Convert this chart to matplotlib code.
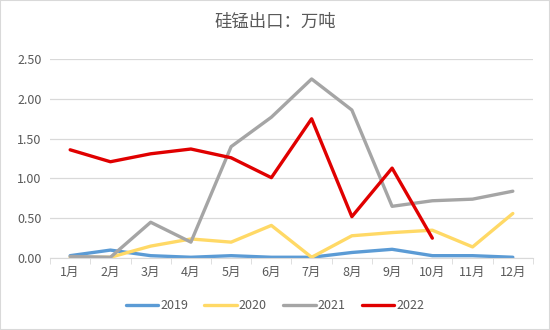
import matplotlib
matplotlib.use("Agg")
import matplotlib.pyplot as plt
from matplotlib.patches import Rectangle

plt.rcParams['font.family'] = ['Noto Sans CJK SC', 'DejaVu Sans']

months = [f"{i}月" for i in range(1, 13)]
y2019 = [0.03, 0.10, 0.03, 0.01, 0.03, 0.01, 0.01, 0.07, 0.11, 0.03, 0.03, 0.01]
y2020 = [0.01, 0.01, 0.15, 0.24, 0.20, 0.41, 0.01, 0.28, 0.32, 0.35, 0.14, 0.56]
y2021 = [0.02, 0.01, 0.45, 0.20, 1.40, 1.77, 2.25, 1.86, 0.65, 0.72, 0.74, 0.84]
y2022 = [1.36, 1.21, 1.31, 1.37, 1.26, 1.01, 1.75, 0.52, 1.13, 0.25]

fig = plt.figure(figsize=(5.5, 3.3), dpi=100)
ax = fig.add_axes([0.091, 0.218, 0.878, 0.603])

x = list(range(12))
ax.plot(x, y2019, color='#5B9BD5', lw=2.4, label='2019', solid_capstyle='round')
ax.plot(x, y2020, color='#FFD966', lw=2.4, label='2020', solid_capstyle='round')
ax.plot(x, y2021, color='#A5A5A5', lw=2.4, label='2021', solid_capstyle='round')
ax.plot(x[:len(y2022)], y2022, color='#E00000', lw=2.4, label='2022', solid_capstyle='round')

ax.set_xlim(-0.5, 11.5)
ax.set_ylim(0, 2.5)
yt = [0, 0.5, 1.0, 1.5, 2.0, 2.5]
ax.set_yticks(yt)
ax.set_yticklabels([f"{v:.2f}" for v in yt])
ax.set_xticks(x)
ax.set_xticklabels(months)
ax.set_xticks([i - 0.5 for i in range(13)], minor=True)
ax.tick_params(axis='x', which='major', length=0, pad=6, labelsize=9, colors='#595959')
ax.tick_params(axis='x', which='minor', length=4, color='#D9D9D9')
ax.tick_params(axis='y', length=0, pad=6, labelsize=9, colors='#595959')
ax.grid(axis='y', color='#D9D9D9', lw=0.9)
ax.set_axisbelow(True)
for s in ['top', 'right', 'left']:
    ax.spines[s].set_visible(False)
ax.spines['bottom'].set_color('#D9D9D9')

fig.text(0.5, 0.935, '硅锰出口：万吨', ha='center', va='center', fontsize=12.5, color='#595959')

fig.legend(loc='center', bbox_to_anchor=(0.5, 0.073), ncol=4, frameon=False,
           fontsize=9, handlelength=2.6, handletextpad=0.15, columnspacing=1.3,
           labelcolor='#595959')

fig.patches.append(Rectangle((0, 0), 1, 1, transform=fig.transFigure,
                             fill=False, edgecolor='#D9D9D9', lw=1.5))

fig.savefig('out.png', dpi=100)
